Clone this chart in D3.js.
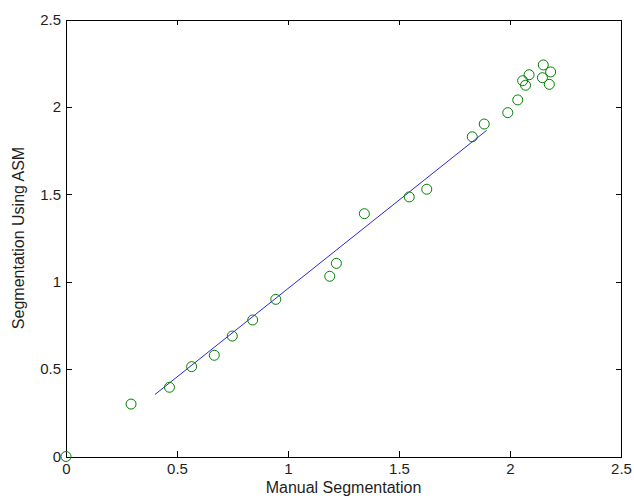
<!DOCTYPE html>
<html>
<head>
    <meta charset="utf-8">
    <style>
        body{
            margin: 0;
            background-color: white;
        }

        .axis text {
            font-family: "Liberation Sans", Arial, sans-serif;
            font-size: 15px;
            fill: rgb(30,30,30);
        }

        .axis path, .axis line {
            stroke: black;
            stroke-width: 1px;
            shape-rendering: crispEdges;
        }

        .label {
            font-family: "Liberation Sans", Arial, sans-serif;
            font-size: 16px;
            fill: rgb(30,30,30);
        }
    </style>
</head>
<body>
    <svg class="vis"></svg>

    <script src="https://cdnjs.cloudflare.com/ajax/libs/d3/7.8.5/d3.min.js"></script>

    <script>

        // points
        var manual = [0, 0.293, 0.466, 0.566, 0.668, 0.749, 0.841, 0.945,
                      1.188, 1.218, 1.344, 1.546, 1.625, 1.830, 1.884,
                      1.990, 2.035, 2.057, 2.070, 2.086, 2.150, 2.146, 2.183, 2.177];
        var asm = [0, 0.300, 0.396, 0.514, 0.579, 0.689, 0.781, 0.899,
                   1.031, 1.105, 1.389, 1.485, 1.529, 1.829, 1.902,
                   1.967, 2.040, 2.150, 2.124, 2.184, 2.240, 2.167, 2.200, 2.129];

        // fitted line end points
        var fitX = [0.401, 1.895];
        var fitY = [0.355, 1.866];

        var ticks = [0, 0.5, 1, 1.5, 2, 2.5];
        var tickLabels = ["0", "0.5", "1", "1.5", "2", "2.5"];

        var xLabel = "Manual Segmentation";
        var yLabel = "Segmentation Using ASM";

        var width = 634;
        var height = 504;
        var box = {left: 66, right: 621, top: 19.5, bottom: 456.5};
        var tickLen = 5.5;

        var vis = d3.select("svg.vis")
                 .attr("width", width)
                 .attr("height", height);

        var x = d3.scaleLinear().domain([0, 2.5]).range([box.left, box.right]);
        var y = d3.scaleLinear().domain([0, 2.5]).range([box.bottom, box.top]);

        function fmt(d){
            return tickLabels[ticks.indexOf(d)];
        }

        function main()
        {
            // fit line
            vis.append("line")
                .attr("x1", x(fitX[0]))
                .attr("y1", y(fitY[0]))
                .attr("x2", x(fitX[1]))
                .attr("y2", y(fitY[1]))
                .attr("stroke", "rgb(40,40,215)")
                .attr("stroke-width", 1);

            // axes (box with inward ticks on all sides)
            vis.append("g").attr("class", "axis")
                .attr("transform", `translate(0,${box.bottom})`)
                .call(d3.axisBottom(x).tickValues(ticks).tickFormat(fmt)
                    .tickSizeInner(-tickLen).tickSizeOuter(0).tickPadding(7));

            vis.append("g").attr("class", "axis")
                .attr("transform", `translate(0,${box.top})`)
                .call(d3.axisTop(x).tickValues(ticks).tickFormat("")
                    .tickSizeInner(-tickLen).tickSizeOuter(0));

            vis.append("g").attr("class", "axis")
                .attr("transform", `translate(${box.left},0)`)
                .call(d3.axisLeft(y).tickValues(ticks).tickFormat(fmt)
                    .tickSizeInner(-tickLen).tickSizeOuter(0).tickPadding(5));

            vis.append("g").attr("class", "axis")
                .attr("transform", `translate(${box.right},0)`)
                .call(d3.axisRight(y).tickValues(ticks).tickFormat("")
                    .tickSizeInner(-tickLen).tickSizeOuter(0));

            // points
            vis.append("g").selectAll("circle")
                .data(manual)
                .enter().append("circle")
                .attr("cx", d => x(d))
                .attr("cy", (d, i) => y(asm[i]))
                .attr("r", 5)
                .attr("fill", "none")
                .attr("stroke", "rgb(0,128,0)")
                .attr("stroke-width", 1);

            // axis labels
            vis.append("text").attr("class", "label")
                .attr("x", (box.left + box.right) / 2)
                .attr("y", 493)
                .attr("text-anchor", "middle")
                .text(xLabel);

            vis.append("text").attr("class", "label")
                .attr("transform", `translate(24,${(box.top + box.bottom) / 2}) rotate(-90)`)
                .attr("text-anchor", "middle")
                .text(yLabel);
        }

        main();

    </script>
</body>
</html>
